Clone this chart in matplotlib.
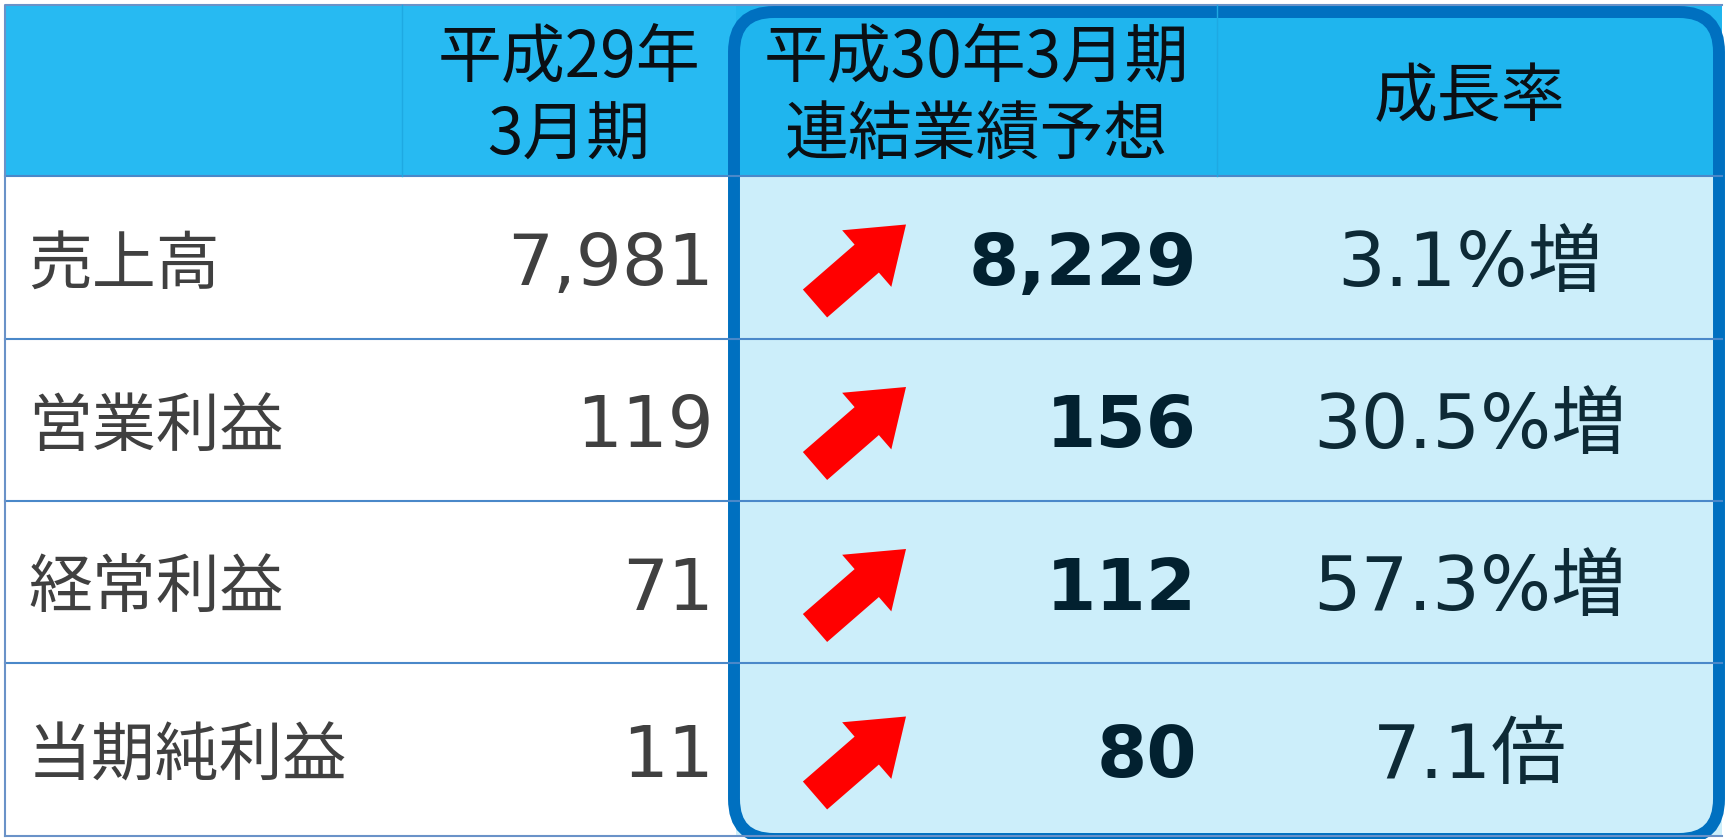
import matplotlib
matplotlib.use('Agg')
import matplotlib.pyplot as plt
from matplotlib.patches import Rectangle, FancyBboxPatch, FancyArrow

# データ
items = ['売上高', '営業利益', '経常利益', '当期純利益']
fy2017 = [7981, 119, 71, 11]
fy2018 = [8229, 156, 112, 80]
growth = ['3.1%増', '30.5%増', '57.3%増', '7.1倍']
headers = ['', '平成29年\n3月期', '平成30年3月期\n連結業績予想', '成長率']

W, H = 1727, 839
col_x = [5, 402, 736, 1217, 1722]
row_y = [5, 176, 339, 501, 663, 836]

jp = ['Noto Sans CJK JP', 'DejaVu Sans']
num = ['DejaVu Sans', 'Noto Sans CJK JP']

fig = plt.figure(figsize=(W / 100, H / 100), dpi=100)
ax = fig.add_axes([0, 0, 1, 1])
ax.set_xlim(0, W)
ax.set_ylim(H, 0)
ax.axis('off')

# 背景
ax.add_patch(Rectangle((col_x[0], row_y[0]), col_x[2] - col_x[0], row_y[1] - row_y[0], fc='#27BAF2', ec='none'))
ax.add_patch(Rectangle((col_x[2], row_y[0]), col_x[4] - col_x[2], row_y[1] - row_y[0], fc='#1FB5EE', ec='none'))
ax.add_patch(Rectangle((col_x[0], row_y[1]), col_x[2] - col_x[0], row_y[-1] - row_y[1], fc='white', ec='none'))
ax.add_patch(Rectangle((col_x[2], row_y[1]), col_x[4] - col_x[2], row_y[-1] - row_y[1], fc='#CCEEFA', ec='none'))

# 罫線
for y in row_y[1:-1]:
    ax.plot([col_x[0], col_x[4]], [y, y], color='#4A88C9', lw=1.5)
ax.plot([col_x[0], col_x[0], col_x[4]], [row_y[-1], row_y[0], row_y[0]], color='#6A92C8', lw=1.5)
ax.plot([col_x[0], col_x[4]], [row_y[-1], row_y[-1]], color='#6A92C8', lw=1.5)
for x in [col_x[1], col_x[3]]:
    ax.plot([x, x], [row_y[0], row_y[1]], color='#1EA9E2', lw=1)

# ヘッダー
for i, h in enumerate(headers):
    if not h:
        continue
    cx = (col_x[i] + col_x[i + 1]) / 2
    cy = (row_y[0] + row_y[1]) / 2 + 7
    ax.text(cx, cy, h, ha='center', va='center', fontsize=46, family=jp,
            color='#0A0F14', linespacing=1.22)

# 本体
for i in range(len(items)):
    yc = (row_y[i + 1] + row_y[i + 2]) / 2
    ax.text(28, yc + 8, items[i], ha='left', va='center', fontsize=46, family=jp, color='#404040')
    ax.text(714, yc + 8, f'{fy2017[i]:,}', ha='right', va='center', fontsize=52, family=num, color='#404040')
    ax.text(1197, yc + 8, f'{fy2018[i]:,}', ha='right', va='center', fontsize=52, family=num,
            fontweight='bold', color='#022130')
    ax.text(1470, yc + 8, growth[i], ha='center', va='center', fontsize=54, family=num, color='#0D2A36')
    ax.add_patch(FancyArrow(815, yc + 46, 91, -79, width=37, head_width=75, head_length=52,
                            length_includes_head=True, color='#FF0000', lw=0))

# 予想の枠
ax.add_patch(FancyBboxPatch((734, 12), 1719 - 734, 839 - 12,
                            boxstyle='round,pad=0,rounding_size=40',
                            fill=False, ec='#0070C0', lw=8.6, clip_on=False))

fig.savefig('out.png', dpi=100)
